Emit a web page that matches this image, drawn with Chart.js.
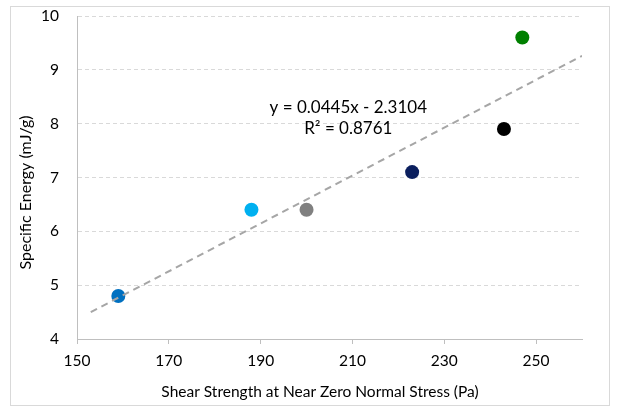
<!DOCTYPE html>
<html>
<head>
<meta charset="utf-8">
<script src="https://cdn.jsdelivr.net/npm/chart.js@4/dist/chart.umd.min.js"></script>
<style>
  html, body { margin: 0; padding: 0; background: #ffffff; overflow: hidden; }
  #wrap { position: relative; width: 617px; height: 418px; }
</style>
</head>
<body>
<div id="wrap"><canvas id="c" width="617" height="418"></canvas></div>
<script>
// ---- data ----
const shearStrength = [159, 188, 200, 223, 243, 247];
const specificEnergy = [4.8, 6.4, 6.4, 7.1, 7.9, 9.6];
const pointColors = ['#0070C0', '#00B0F0', '#808080', '#0B1F5E', '#000000', '#008000'];
const trendX = [153, 260];
const trendY = [4.50, 9.26];
const xTicks = [150, 170, 190, 210, 230, 250];
const yTicks = [4, 5, 6, 7, 8, 9, 10];
const equationLines = ['y = 0.0445x - 2.3104', 'R\u00B2 = 0.8761'];
const xTitle = 'Shear Strength at Near Zero Normal Stress (Pa)';
const yTitle = 'Specific Energy (mJ/g)';

const FONT = 'Lato, "Open Sans", sans-serif';

const framePlugin = {
  id: 'frame',
  beforeDraw(chart) {
    const ctx = chart.ctx;
    ctx.save();
    ctx.fillStyle = '#ffffff';
    ctx.fillRect(0, 0, chart.width, chart.height);
    ctx.strokeStyle = '#D9D9D9';
    ctx.lineWidth = 1;
    ctx.strokeRect(10.5, 6.5, 599, 399);
    ctx.restore();
  },
  afterDraw(chart) {
    const ctx = chart.ctx;
    const a = chart.chartArea;
    const xs = chart.scales.x, ys = chart.scales.y;
    ctx.save();
    ctx.fillStyle = '#000000';
    // equation text
    ctx.font = '17px ' + FONT;
    ctx.textAlign = 'center';
    ctx.textBaseline = 'alphabetic';
    const ex = xs.getPixelForValue(209.1);
    const ey = ys.getPixelForValue(8.19);
    ctx.fillText(equationLines[0], ex, ey);
    ctx.fillText(equationLines[1], ex, ey + 21);
    // axis titles
    ctx.font = '15.5px ' + FONT;
    ctx.textBaseline = 'middle';
    ctx.fillText(xTitle, (a.left + a.right) / 2 - 9.5, 392);
    ctx.font = '16px ' + FONT;
    ctx.translate(26, (a.top + a.bottom) / 2 + 15);
    ctx.rotate(-Math.PI / 2);
    ctx.fillText(yTitle, 0, 0);
    ctx.restore();
  }
};

new Chart(document.getElementById('c'), {
  data: {
    datasets: [
      {
        type: 'line',
        order: 0,
        data: trendX.map((x, i) => ({ x: x, y: trendY[i] })),
        borderColor: '#A6A6A6',
        borderWidth: 2,
        borderDash: [7, 5],
        pointRadius: 0,
        fill: false,
        tension: 0
      },
      {
        type: 'scatter',
        order: 1,
        data: shearStrength.map((x, i) => ({ x: x, y: specificEnergy[i] })),
        backgroundColor: pointColors,
        borderWidth: 0,
        pointRadius: 7,
        pointHoverRadius: 7
      }
    ]
  },
  options: {
    responsive: false,
    devicePixelRatio: 1,
    animation: false,
    events: [],
    layout: { padding: { top: 16, right: 35, left: 0, bottom: 0 } },
    plugins: { legend: { display: false }, tooltip: { enabled: false } },
    scales: {
      x: {
        type: 'linear',
        min: 150,
        max: 260,
        afterBuildTicks: s => { s.ticks = xTicks.map(v => ({ value: v })); },
        afterFit: s => { s.height = 79; s.paddingLeft = 0; s.paddingRight = 0; },
        grid: { drawOnChartArea: false, drawTicks: true, tickLength: 5, color: '#BFBFBF', lineWidth: 1 },
        border: { display: true, color: '#BFBFBF', width: 1 },
        ticks: { color: '#000000', font: { family: FONT, size: 15.5 }, padding: 8, maxRotation: 0 }
      },
      y: {
        type: 'linear',
        min: 4,
        max: 10,
        afterBuildTicks: s => { s.ticks = yTicks.map(v => ({ value: v })); },
        afterFit: s => { s.width = 77; s.paddingTop = 0; s.paddingBottom = 0; },
        grid: {
          drawTicks: false,
          color: c => (c.tick && c.tick.value === 4) ? 'rgba(0,0,0,0)' : '#D9D9D9',
          lineWidth: 1
        },
        border: { display: true, color: '#BFBFBF', width: 1, dash: [4, 3] },
        ticks: { color: '#000000', font: { family: FONT, size: 15.5 }, padding: 18 }
      }
    }
  },
  plugins: [framePlugin]
});
</script>
</body>
</html>
